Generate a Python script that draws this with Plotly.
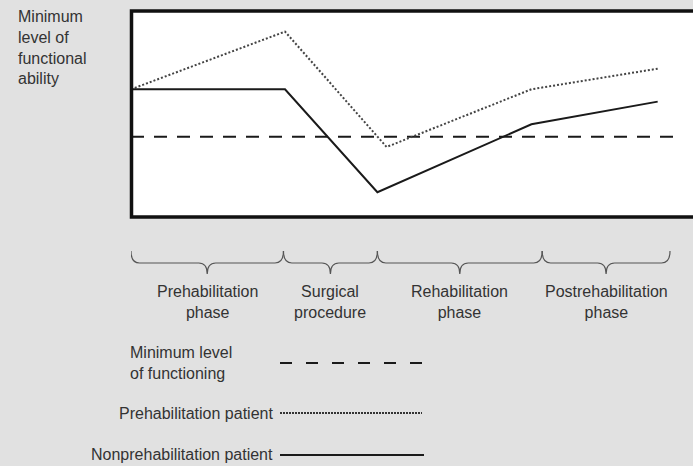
import plotly.graph_objects as go

# ---- data ----
time_prehab = [0, 10, 16.6, 26, 34.2]
ability_prehab = [6.2, 9.0, 3.4, 6.2, 7.2]
time_nonprehab = [0, 10, 16, 26, 34.2]
ability_nonprehab = [6.2, 6.2, 1.2, 4.5, 5.6]
min_level = 3.9
min_level_span = [0, 35.8]
phase_bounds = [0, 9.9, 16, 26.7, 35]
phase_labels = ["Prehabilitation<br>phase", "Surgical<br>procedure",
                "Rehabilitation<br>phase", "Postrehabilitation<br>phase"]
y_title = "Minimum<br>level of<br>functional<br>ability"
legend_labels = ["Minimum level<br>of functioning", "Prehabilitation patient",
                 "Nonprehabilitation patient"]

W, H = 693, 466
ML, MT = 131, 11
PW, PH = W - ML, 206
MB = H - MT - PH
FONT = "Liberation Sans, Arial, sans-serif"
TXT = "#333333"


def px(xp):
    return (xp - ML) / PW


def py(yp):
    return (MT + PH - yp) / PH


fig = go.Figure()
fig.add_trace(go.Scatter(x=min_level_span, y=[min_level, min_level], mode="lines",
                         line=dict(color="#1a1a1a", width=2, dash="13px,10px"),
                         hoverinfo="skip"))
fig.add_trace(go.Scatter(x=time_prehab, y=ability_prehab, mode="lines",
                         line=dict(color="#444444", width=2, dash="2px,2px"),
                         hoverinfo="skip"))
fig.add_trace(go.Scatter(x=time_nonprehab, y=ability_nonprehab, mode="lines",
                         line=dict(color="#1a1a1a", width=2),
                         hoverinfo="skip"))

shapes = []
# plot frame
shapes.append(dict(type="rect", xref="paper", yref="paper", x0=px(131.5), x1=px(705),
                   y0=0, y1=1, line=dict(color="#111111", width=3.5), layer="above"))

# braces
ytop, yh, ytip = py(251), py(263), py(274)
c = 0.55
for a, b in zip(phase_bounds[:-1], phase_bounds[1:]):
    m = (a + b) / 2
    path = (f"M {a},{ytop} Q {a},{yh} {a + c},{yh} L {m - c},{yh} "
            f"Q {m},{yh} {m},{ytip} Q {m},{yh} {m + c},{yh} "
            f"L {b - c},{yh} Q {b},{yh} {b},{ytop}")
    shapes.append(dict(type="path", xref="x", yref="paper", path=path,
                       line=dict(color="#555555", width=1.2)))

annotations = []
for a, b, lab in zip(phase_bounds[:-1], phase_bounds[1:], phase_labels):
    annotations.append(dict(x=(a + b) / 2, y=py(302), xref="x", yref="paper",
                            text=lab, showarrow=False, xanchor="center", yanchor="middle",
                            align="center", font=dict(size=16, color=TXT, family=FONT)))

annotations.append(dict(x=px(16), y=py(47), xref="paper", yref="paper", text=y_title,
                        showarrow=False, xanchor="left", yanchor="middle", align="left",
                        font=dict(size=16, color=TXT, family=FONT)))

# legend
annotations.append(dict(x=px(128), y=py(363), xref="paper", yref="paper",
                        text=legend_labels[0], showarrow=False, xanchor="left",
                        yanchor="middle", align="left",
                        font=dict(size=16, color=TXT, family=FONT)))
annotations.append(dict(x=px(275), y=py(413), xref="paper", yref="paper",
                        text=legend_labels[1], showarrow=False, xanchor="right",
                        yanchor="middle", align="right",
                        font=dict(size=16, color=TXT, family=FONT)))
annotations.append(dict(x=px(275), y=py(454), xref="paper", yref="paper",
                        text=legend_labels[2], showarrow=False, xanchor="right",
                        yanchor="middle", align="right",
                        font=dict(size=16, color=TXT, family=FONT)))
shapes.append(dict(type="line", xref="paper", yref="paper", x0=px(280), x1=px(424),
                   y0=py(363), y1=py(363), line=dict(color="#1a1a1a", width=2, dash="12px,14px")))
shapes.append(dict(type="line", xref="paper", yref="paper", x0=px(280), x1=px(422),
                   y0=py(413), y1=py(413), line=dict(color="#333333", width=2, dash="2px,1px")))
shapes.append(dict(type="line", xref="paper", yref="paper", x0=px(280), x1=px(424),
                   y0=py(455), y1=py(455), line=dict(color="#1a1a1a", width=2)))

fig.update_layout(
    width=W, height=H, autosize=False,
    margin=dict(l=ML, r=0, t=MT, b=MB, pad=0),
    paper_bgcolor="#e1e1e1", plot_bgcolor="#ffffff",
    showlegend=False,
    xaxis=dict(range=[0, PW / 15.4], visible=False, fixedrange=True),
    yaxis=dict(range=[0, 10], visible=False, fixedrange=True),
    shapes=shapes, annotations=annotations,
)

fig.write_html("out.html", config={"displayModeBar": False},
               post_script="document.body.style.margin='0';document.body.style.overflow='hidden';")
